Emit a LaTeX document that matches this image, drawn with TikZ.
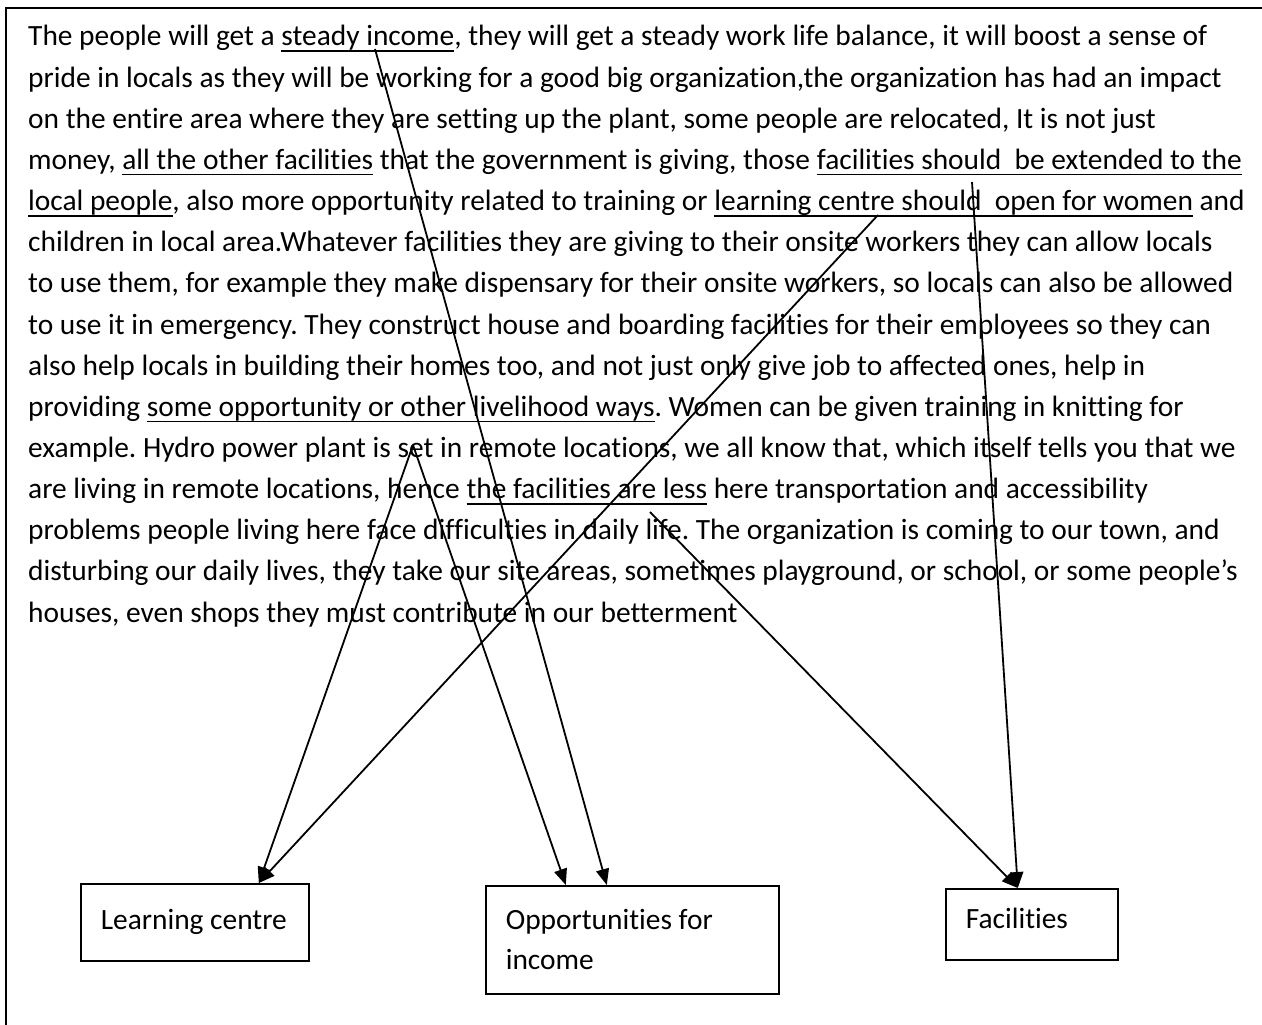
\documentclass[tikz,border=0pt]{standalone}
\usepackage{fontspec}
\setmainfont{Carlito}[Ligatures=NoCommon]
\usetikzlibrary{arrows.meta}
\frenchspacing
% underline drawn as a rule just below the baseline, through the spaces too
\newcommand\ulword[1]{\setbox0\hbox{#1}\rlap{\rule[-6pt]{\wd0}{1.8pt}}\box0\relax}
\tikzset{
  txt/.style={anchor=base west, inner sep=0pt, font=\fontsize{29.4}{41}\selectfont},
  box/.style={draw, line width=1.6pt, anchor=north west, inner xsep=20pt, inner ysep=0pt,
              align=flush left, font=\fontsize{29.4}{40}\selectfont},
  arr/.style={line width=1.8pt, -{Triangle[length=16pt,width=13pt]}}
}
\begin{document}
\begin{tikzpicture}[x=1pt,y=-1pt]
\useasboundingbox (0,0) rectangle (1262,1025);
\begin{scope}
\clip (0,0) rectangle (1262,1025);
\draw[line width=1.5pt] (6,8) rectangle (1290,1060);
\end{scope}

% the quoted paragraph, one node per printed line
\node[txt] (l1)  at (28, 46.0) {The people will get a \ulword{steady income}, they will get a steady work life balance, it will boost a sense of};
\node[txt] (l2)  at (28, 87.1) {pride in locals as they will be working for a good big organization,the organization has had an impact};
\node[txt] (l3)  at (28,128.3) {on the entire area where they are setting up the plant, some people are relocated, It is not just};
\node[txt] (l4)  at (28,169.4) {money, \ulword{all the other facilities} that the government is giving, those \ulword{facilities should\ \ be extended to the}};
\node[txt] (l5)  at (28,210.6) {\ulword{local people}, also more opportunity related to training or \ulword{learning centre should\ \ open for women} and};
\node[txt] (l6)  at (28,251.7) {children in local area.Whatever facilities they are giving to their onsite workers they can allow locals};
\node[txt] (l7)  at (28,292.8) {to use them, for example they make dispensary for their onsite workers, so locals can also be allowed};
\node[txt] (l8)  at (28,334.0) {to use it in emergency. They construct house and boarding facilities for their employees so they can};
\node[txt] (l9)  at (28,375.1) {also help locals in building their homes too, and not just only give job to affected ones, help in};
\node[txt] (l10) at (28,416.3) {providing \ulword{some opportunity or other livelihood ways}. Women can be given training in knitting for};
\node[txt] (l11) at (28,457.4) {example. Hydro power plant is set in remote locations, we all know that, which itself tells you that we};
\node[txt] (l12) at (28,498.5) {are living in remote locations, hence \ulword{the facilities are less} here transportation and accessibility};
\node[txt] (l13) at (28,539.7) {problems people living here face difficulties in daily life. The organization is coming to our town, and};
\node[txt] (l14) at (28,580.8) {disturbing our daily lives, they take our site areas, sometimes playground, or school, or some people’s};
\node[txt] (l15) at (28,622.0) {houses, even shops they must contribute in our betterment};

% category boxes
\node[box, text width=188pt, minimum height=77pt] (lc) at (80,883) {Learning centre};
\node[box, text width=253pt, minimum height=108pt] (oi) at (485,885) {Opportunities for\\income};
\node[box, text width=132pt, minimum height=71pt, text depth=12pt] (fa) at (945,888) {Facilities};

% points in the text where the links start
\coordinate (sIncome) at (375,49);
\coordinate (sFacExt) at (972,182);
\coordinate (sLearn)  at (878,215);
\coordinate (sSet)    at (413,445);
\coordinate (sLess)   at (650,512);

% links from the text to the categories
\draw[arr] (sIncome) -- ([xshift=-25.5pt]oi.north);
\draw[arr] (sSet)    -- ([xshift=-66.5pt]oi.north);
\draw[arr] (sSet)    -- ([xshift=64pt]lc.north);
\draw[arr] (sLearn)  -- ([xshift=64pt]lc.north);
\draw[arr] (sFacExt) -- ([xshift=-14pt]fa.north);
\draw[arr] (sLess)   -- ([xshift=-14pt]fa.north);
\end{tikzpicture}
\end{document}
